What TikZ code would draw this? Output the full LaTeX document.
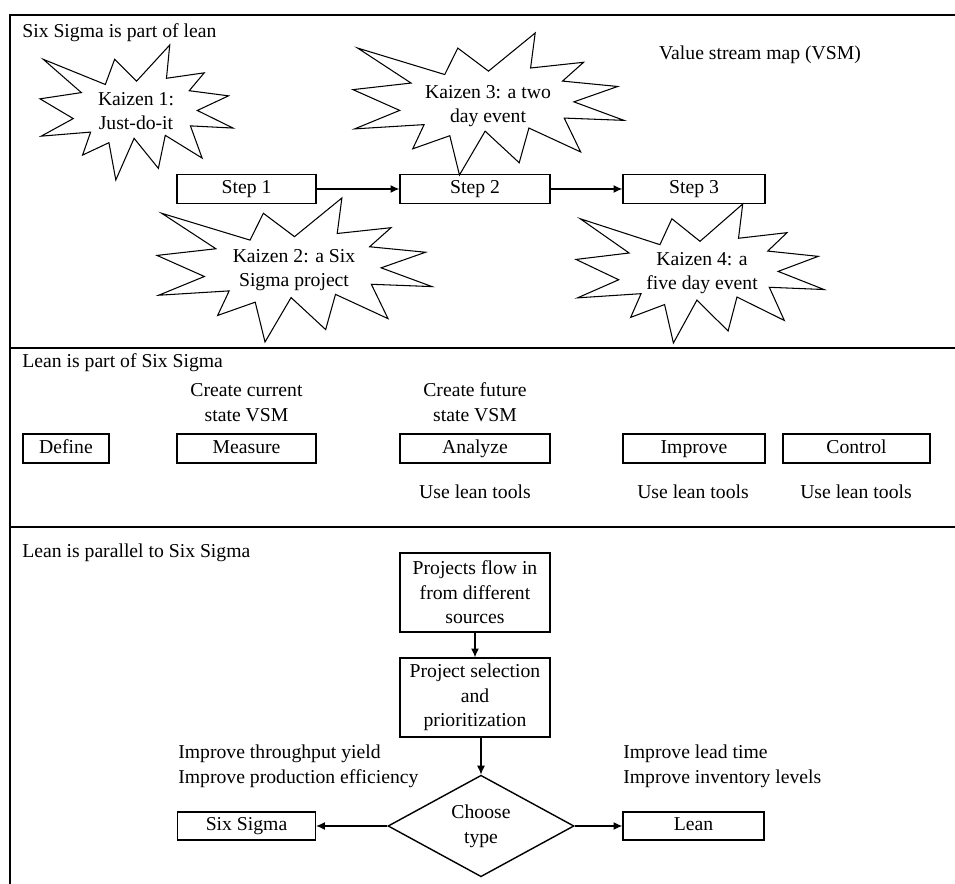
\documentclass[tikz,border=0pt]{standalone}
\usepackage{fontspec}
\setmainfont{Liberation Serif}
\usetikzlibrary{shapes.geometric,arrows.meta}

\tikzset{
    box/.style={draw, line width=0.8pt, inner sep=0pt, minimum height=0.58cm,
        text height=0.72em, text depth=0.22em},
    tallbox/.style={draw, line width=0.8pt, inner sep=0pt, minimum width=3cm,
        minimum height=1.58cm, align=center},
    note/.style={inner sep=0pt, align=center},
    heading/.style={inner sep=0pt, anchor=west},
    frame/.style={line width=0.9pt},
    link/.style={-{Latex[length=5pt,width=4.5pt]}, line width=0.6pt},
    burst/.pic={
        \draw[line width=0.6pt]
            (0,0.2315) -- (0.1723,0.5) -- (0.1553,0.2535) -- (0.3509,0.2937)
            -- (0.2732,0.1613) -- (0.4767,0.1233) -- (0.3151,0.0150)
            -- (0.5,-0.1153) -- (0.2795,-0.0992) -- (0.3400,-0.3377)
            -- (0.1491,-0.1693) -- (0.1133,-0.4138) -- (-0.0124,-0.1914)
            -- (-0.1072,-0.5) -- (-0.1428,-0.2235) -- (-0.2795,-0.3156)
            -- (-0.2376,-0.1452) -- (-0.4938,-0.1753) -- (-0.3277,-0.0451)
            -- (-0.5,0.1012) -- (-0.2858,0.1474) -- (-0.4829,0.3938)
            -- (-0.1615,0.2074) -- (-0.1133,0.3938) -- cycle;
    }
}

\begin{document}
\fontsize{11.2}{14}\selectfont
\begin{tikzpicture}
        \useasboundingbox (0,0) rectangle (19.1,-17.68);

        % frame and panel dividers
        \draw[frame] (0.2,-17.8) -- (0.2,-0.3) -- (19.2,-0.3);
        \draw[frame] (0.2,-6.96) -- (19.2,-6.96);
        \draw[frame] (0.2,-10.54) -- (19.2,-10.54);

        % panel 1
        \begin{scope}
            \node[heading] (head1) at (0.44,-0.66) {Six Sigma is part of lean};
            \node[note] (vsm) at (15.2,-1.1) {Value stream map (VSM)};

            \node[box, minimum width=2.78cm] (step1) at (4.93,-3.78) {Step 1};
            \node[box, minimum width=3cm] (step2) at (9.5,-3.78) {Step 2};
            \node[box, minimum width=2.84cm] (step3) at (13.88,-3.78) {Step 3};

            \pic[xscale=3.86, yscale=2.70] at (2.73,-2.25) {burst};
            \pic[xscale=5.50, yscale=2.88] at (5.89,-5.40) {burst};
            \pic[xscale=5.42, yscale=2.84] at (9.77,-2.08) {burst};
            \pic[xscale=4.96, yscale=2.78] at (14.0,-5.47) {burst};

            \node[note] (k1) at (2.72,-2.22) {Kaizen 1:\\Just-do-it};
            \node[note] (k2) at (5.88,-5.40) {Kaizen 2: a Six\\Sigma project};
            \node[note] (k3) at (9.76,-2.12) {Kaizen 3: a two\\day event};
            \node[note] (k4) at (14.04,-5.46) {Kaizen 4: a\\five day event};
        \end{scope}

        \begin{scope}
            \draw[link] (step1) -- (step2);
            \draw[link] (step2) -- (step3);
        \end{scope}

        % panel 2
        \begin{scope}
            \node[heading] (head2) at (0.44,-7.26) {Lean is part of Six Sigma};

            \node[box, minimum width=1.72cm] (define) at (1.32,-8.97) {Define};
            \node[box, minimum width=2.78cm] (measure) at (4.93,-8.97) {Measure};
            \node[box, minimum width=3cm] (analyze) at (9.5,-8.97) {Analyze};
            \node[box, minimum width=2.84cm] (improve) at (13.88,-8.97) {Improve};
            \node[box, minimum width=2.94cm] (control) at (17.13,-8.97) {Control};

            \node[note] (current) at (4.93,-8.05) {Create current\\state VSM};
            \node[note] (future) at (9.5,-8.05) {Create future\\state VSM};
            \node[note] (tools1) at (9.5,-9.84) {Use lean tools};
            \node[note] (tools2) at (13.86,-9.84) {Use lean tools};
            \node[note] (tools3) at (17.12,-9.84) {Use lean tools};
        \end{scope}

        % panel 3
        \begin{scope}
            \node[heading] (head3) at (0.44,-11.06) {Lean is parallel to Six Sigma};

            \node[tallbox] (flow) at (9.5,-11.85)
            {Projects flow in\\from different\\sources};
            \node[tallbox] (select) at (9.5,-13.95)
            {Project selection\\and\\prioritization};
            \node[draw, diamond, line width=0.8pt, inner sep=0pt, align=center,
                minimum width=3.72cm, minimum height=1.98cm] (choose)
                at (9.62,-16.52) {Choose\\type};
            \node[box, minimum width=2.76cm, minimum height=0.56cm] (sixsigma)
                at (4.93,-16.52) {Six Sigma};
            \node[box, minimum width=2.82cm, minimum height=0.56cm] (lean)
                at (13.87,-16.52) {Lean};

            \node[heading, align=left] (yield) at (3.56,-15.32)
            {Improve throughput yield\\Improve production efficiency};
            \node[heading, align=left] (leadtime) at (12.46,-15.32)
            {Improve lead time\\Improve inventory levels};
        \end{scope}

        \begin{scope}
            \draw[link] (flow) -- (select);
            \draw[link] (select.south -| choose.north) -- (choose.north);
            \draw[link] (choose.west) -- (sixsigma.east);
            \draw[link] (choose.east) -- (lean.west);
        \end{scope}

\end{tikzpicture}
\end{document}
